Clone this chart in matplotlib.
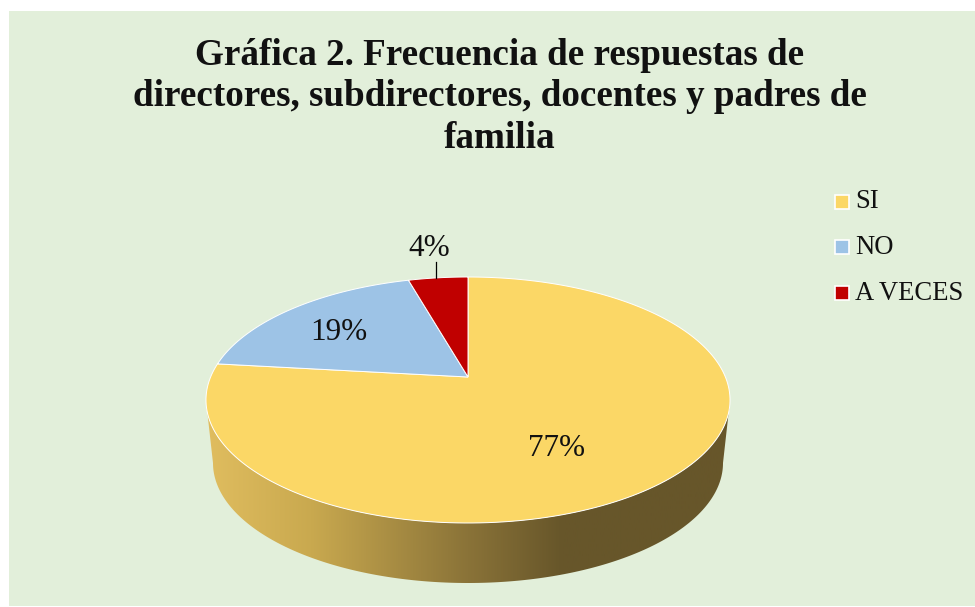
import matplotlib
matplotlib.use('Agg')
import matplotlib.pyplot as plt
import numpy as np
from matplotlib.colors import LinearSegmentedColormap
from matplotlib.patches import Polygon, Rectangle

title = 'Gráfica 2. Frecuencia de respuestas de\ndirectores, subdirectores, docentes y padres de\nfamilia'
categories = ['SI', 'NO', 'A VECES']
values = [76.8, 18.8, 4.4]
colors = ['#FBD766', '#9DC3E6', '#C00000']
bg = '#E2EFDA'

plt.rcParams['font.family'] = ['Liberation Serif', 'DejaVu Serif']

fig = plt.figure(figsize=(9.75, 6.07), dpi=100)
ax = fig.add_axes([0, 0, 1, 1])
ax.set_xlim(0, 975)
ax.set_ylim(607, 0)
ax.axis('off')

# panel
ax.add_patch(Rectangle((9, 11), 966, 595, fc=bg, ec='none', zorder=0))

# pie in perspective: unit circle -> picture
cx, cy = 468, 377
B, A, k = 257.4, 118.7, 0.187

def project(t):
    # t is clockwise from top, radians
    u, v = np.sin(t), np.cos(t)
    d = 1 + k * v
    return cx + B * u / d, cy - A * v / d

# side of the pie
lower_cx, lower_cy, lower_a, lower_b = 468, 463, 255, 120
ts = np.linspace(0, np.pi, 200)
top_x, top_y = project(np.linspace(np.pi / 2 + 0.19, 3 * np.pi / 2 - 0.19, 300))
low_x = lower_cx + lower_a * np.cos(ts)
low_y = lower_cy + lower_b * np.sin(ts)
side_pts = np.column_stack([np.r_[low_x, top_x[::-1]], np.r_[low_y, top_y[::-1]]])
side = Polygon(side_pts, closed=True, fc='none', ec='none')
ax.add_patch(side)
cmap = LinearSegmentedColormap.from_list('side', [(0, '#E0BD5F'), (0.2, '#C9A94F'), (0.5, '#8A7338'), (0.68, '#67562A'), (1, '#67562A')])
im = ax.imshow(np.linspace(0, 1, 256).reshape(1, -1), cmap=cmap, extent=(206, 730, 607, 0), aspect='auto', zorder=1)
im.set_clip_path(side)
ax.set_xlim(0, 975)
ax.set_ylim(607, 0)

# wedges from the values, clockwise from 12 o'clock
start = 0
for val, col in zip(values, colors):
    sweep = val / sum(values) * 2 * np.pi
    t = np.linspace(start, start + sweep, 200)
    x, y = project(t)
    ax.add_patch(Polygon(np.column_stack([np.r_[cx, x], np.r_[cy, y]]), closed=True, fc=col, ec='white', lw=0.7, zorder=2))
    start += sweep

# data labels
label_pos = [(557, 448), (339, 333), (429, 248)]
for val, (lx, ly) in zip(values, label_pos):
    ax.text(lx, ly, '%d%%' % round(val), fontsize=22.5, ha='center', va='center', color='#111111', zorder=3)
ax.plot([436, 436], [262, 278], color='black', lw=0.9, zorder=3)

# title
ax.text(500, 97, title, fontsize=26.7, fontweight='bold', ha='center', va='center', linespacing=1.24, color='#111111')

# legend
leg_y = [202, 247, 293]
for name, col, y in zip(categories, colors, leg_y):
    ax.add_patch(Rectangle((835, y - 7), 14, 14, fc=col, ec='white', lw=1.2, zorder=3))
    ax.text(855, y, name, fontsize=19.2, ha='left', va='center', color='#111111')

fig.savefig('out.png', dpi=100, facecolor='white')
